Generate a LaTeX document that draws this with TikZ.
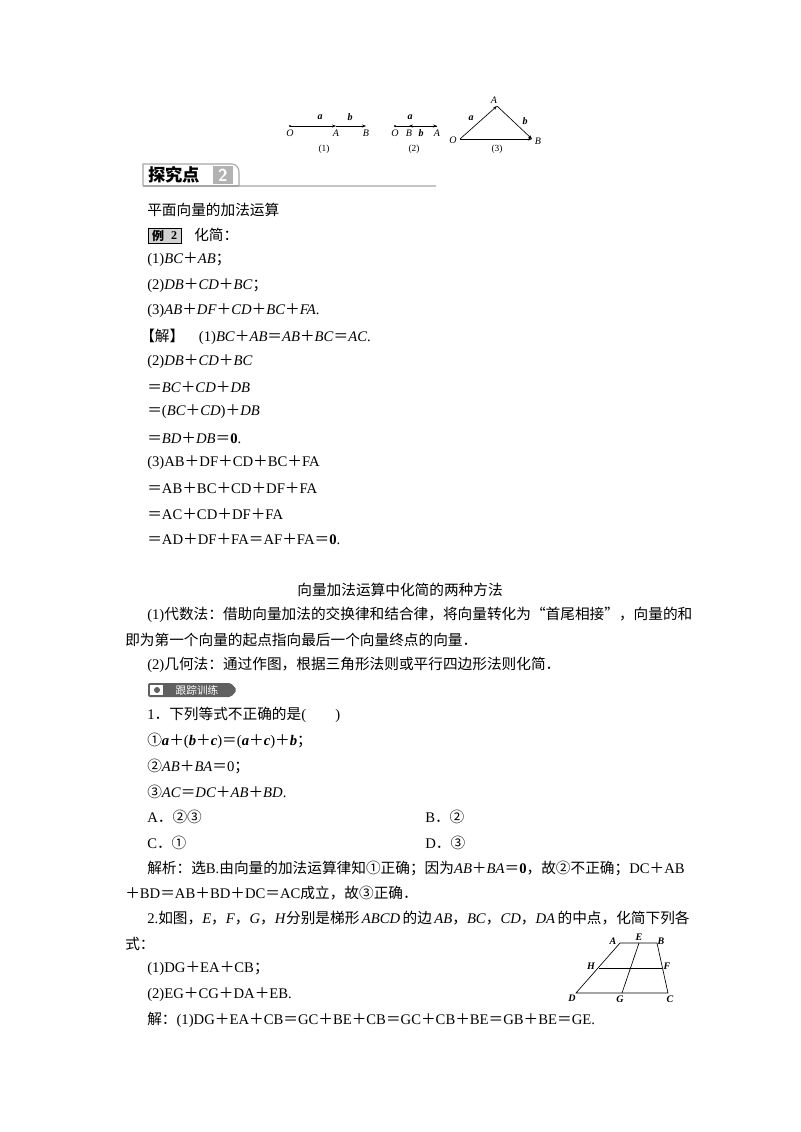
\documentclass[tikz,border=0pt]{standalone}
\usepackage{fontspec}
\usetikzlibrary{arrows.meta}
\setmainfont{Liberation Serif}
\newfontfamily\cjk{Noto Sans CJK SC}
\newcommand{\Pl}{{\cjk ＋}}
\newcommand{\Eq}{{\cjk ＝}}
\newcommand{\Dt}{{\cjk ．}}
\newcommand{\vv}[1]{\textit{#1}}
\begin{document}
\begin{tikzpicture}[x=0.75pt,y=-0.75pt,font=\fontsize{11}{13}\selectfont,
  txt/.style={anchor=west,inner sep=0pt},
  lab/.style={inner sep=0pt,font=\fontsize{7.5}{8}\selectfont\itshape},
  tl/.style={inner sep=0pt,font=\fontsize{7.5}{8}\selectfont\itshape\bfseries},
  vec/.style={-{Stealth[length=3pt]},line width=0.5pt}]
\useasboundingbox (0,0) rectangle (800,1132);
\fill[white] (0,0) rectangle (800,1132);
% top figures
\coordinate (O1) at (290,126); \coordinate (A1) at (336,126); \coordinate (B1) at (366,126);
\fill (O1) circle (1.1);
\draw[vec] (O1) -- (A1); \draw[vec] (A1) -- (B1);
\node[lab] at (320,117) {\textbf{a}}; \node[lab] at (350,117) {\textbf{b}};
\node[lab] at (290,133) {O}; \node[lab] at (336,133) {A}; \node[lab] at (366,133) {B};
\node[inner sep=0pt,font=\fontsize{7}{8}\selectfont] at (324,149) {(1)};
\coordinate (O2) at (395,126); \coordinate (B2) at (409,126); \coordinate (A2) at (437,126);
\fill (O2) circle (1.1);
\draw[vec] (O2) -- (A2); \draw[vec] (A2) -- (B2);
\node[lab] at (410,117) {\textbf{a}}; \node[lab] at (421,133) {\textbf{b}};
\node[lab] at (395,133) {O}; \node[lab] at (409,133) {B}; \node[lab] at (437,133) {A};
\node[inner sep=0pt,font=\fontsize{7}{8}\selectfont] at (414,149) {(2)};
\coordinate (O3) at (460,139); \coordinate (A3) at (497,106); \coordinate (B3) at (532,139);
\draw[vec] (O3) -- (A3); \draw[vec] (A3) -- (B3); \draw[vec] (O3) -- (B3);
\node[lab] at (494,100) {A}; \node[lab] at (453,140) {O}; \node[lab] at (538,141) {B};
\node[lab] at (471,118) {\textbf{a}}; \node[lab] at (525,121) {\textbf{b}};
\node[inner sep=0pt,font=\fontsize{7}{8}\selectfont] at (497,149) {(3)};
% header
\draw[gray!70,line width=0.8pt] (143,186) -- (143,164) -- (232,164) to[out=0,in=90] (239,172) -- (239,186) -- (436,186);
\draw[gray!70,line width=0.8pt] (143,186) -- (239,186);
\node[txt,font=\fontsize{13}{14}\selectfont\cjk\bfseries] at (148,175) {探究点};
\fill[gray!60] (213,166) rectangle (233,184);
\node[inner sep=0pt,text=white,font=\fontsize{13}{14}\selectfont\sffamily\bfseries] at (223,175) {2};
% body
\node[txt] at (147,210) {\cjk 平面向量的加法运算};
\draw[fill=gray!35,draw=black,line width=0.4pt] (148,228) rectangle (181,243);
\node[inner sep=0pt,font=\fontsize{9}{10}\selectfont\cjk\bfseries] at (158,235.5) {例};
\node[inner sep=0pt,font=\fontsize{9}{10}\selectfont\bfseries] at (174,235.5) {2};
\node[txt] at (194,235) {\cjk 化简：};
\node[txt] at (147,260) {(1)\vv{BC}\Pl\vv{AB}{\cjk ；}};
\node[txt] at (147,286) {(2)\vv{DB}\Pl\vv{CD}\Pl\vv{BC}{\cjk ；}};
\node[txt] at (147,311) {(3)\vv{AB}\Pl\vv{DF}\Pl\vv{CD}\Pl\vv{BC}\Pl\vv{FA}.};
\node[txt] at (140,337) {{\cjk 【解】}\quad(1)\vv{BC}\Pl\vv{AB}\Eq\vv{AB}\Pl\vv{BC}\Eq\vv{AC}.};
\node[txt] at (147,362) {(2)\vv{DB}\Pl\vv{CD}\Pl\vv{BC}};
\node[txt] at (147,387) {\Eq\vv{BC}\Pl\vv{CD}\Pl\vv{DB}};
\node[txt] at (147,412) {\Eq(\vv{BC}\Pl\vv{CD})\Pl\vv{DB}};
\node[txt] at (147,438) {\Eq\vv{BD}\Pl\vv{DB}\Eq\textbf{0}.};
\node[txt] at (147,463) {(3)AB\Pl DF\Pl CD\Pl BC\Pl FA};
\node[txt] at (147,488) {\Eq AB\Pl BC\Pl CD\Pl DF\Pl FA};
\node[txt] at (147,514) {\Eq AC\Pl CD\Pl DF\Pl FA};
\node[txt] at (147,539) {\Eq AD\Pl DF\Pl FA\Eq AF\Pl FA\Eq\textbf{0}.};
\node[inner sep=0pt] at (400,590) {\cjk 向量加法运算中化简的两种方法};
\node[txt] at (147,615) {(1){\cjk 代数法：借助向量加法的交换律和结合律，将向量转化为“首尾相接”，向量的和}};
\node[txt] at (125,640) {\cjk 即为第一个向量的起点指向最后一个向量终点的向量．};
\node[txt] at (147,665) {(2){\cjk 几何法：通过作图，根据三角形法则或平行四边形法则化简．}};
% badge
\fill[gray!75!black,rounded corners=1.5pt] (148,683) -- (231,683) -- (237,690) -- (231,697) -- (148,697) -- cycle;
\fill[white] (150,685) rectangle (163,695);
\fill[gray!75!black] (157,690) circle (3);
\node[inner sep=0pt,text=white,font=\fontsize{8}{9}\selectfont\cjk] at (197,690) {跟踪训练};
\node[txt] at (147,715) {1\Dt{\cjk 下列等式不正确的是}(\qquad)};
\node[txt] at (147,741) {{\cjk ①}\textbf{\textit{a}}\Pl(\textbf{\textit{b}}\Pl\textbf{\textit{c}})\Eq(\textbf{\textit{a}}\Pl\textbf{\textit{c}})\Pl\textbf{\textit{b}}{\cjk ；}};
\node[txt] at (147,766) {{\cjk ②}\vv{AB}\Pl\vv{BA}\Eq0{\cjk ；}};
\node[txt] at (147,792) {{\cjk ③}\vv{AC}\Eq\vv{DC}\Pl\vv{AB}\Pl\vv{BD}.};
\node[txt] at (147,817) {A\Dt{\cjk ②③}};
\node[txt] at (425,817) {B\Dt{\cjk ②}};
\node[txt] at (147,843) {C\Dt{\cjk ①}};
\node[txt] at (425,843) {D\Dt{\cjk ③}};
\node[txt] at (147,868) {{\cjk 解析：选}B.{\cjk 由向量的加法运算律知①正确；因为}\vv{AB}\Pl\vv{BA}\Eq\textbf{0}{\cjk ，故②不正确；}DC\Pl AB};
\node[txt] at (125,893) {\Pl BD\Eq AB\Pl BD\Pl DC\Eq AC{\cjk 成立，故③正确．}};
\node[txt] at (147,918) {2.{\cjk 如图，}\vv{E}{\cjk ，}\vv{F}{\cjk ，}\vv{G}{\cjk ，}\vv{H}{\cjk 分别是梯形}\,\vv{ABCD}\,{\cjk 的边}\,\vv{AB}{\cjk ，}\vv{BC}{\cjk ，}\vv{CD}{\cjk ，}\vv{DA}\,{\cjk 的中点，化简下列各}};
\node[txt] at (125,944) {\cjk 式：};
\node[txt] at (147,969) {(1)DG\Pl EA\Pl CB{\cjk ；}};
\node[txt] at (147,995) {(2)EG\Pl CG\Pl DA\Pl EB.};
\node[txt] at (147,1020) {{\cjk 解：}(1)DG\Pl EA\Pl CB\Eq GC\Pl BE\Pl CB\Eq GC\Pl CB\Pl BE\Eq GB\Pl BE\Eq GE.};
% trapezoid
\coordinate (A) at (620,943); \coordinate (B) at (657,943); \coordinate (C) at (668,993);
\coordinate (D) at (576,993); \coordinate (E) at (639,943); \coordinate (G) at (622,993);
\coordinate (H) at (599,968); \coordinate (F) at (662,968);
\draw[line width=0.5pt] (A) -- (B) -- (C) -- (D) -- cycle;
\draw[line width=0.5pt] (E) -- (G); \draw[line width=0.5pt] (H) -- (F);
\node[tl] at (613,941) {A};
\node[tl] at (639,937) {E};
\node[tl] at (661,941) {B};
\node[tl] at (591,966) {H};
\node[tl] at (667,966) {F};
\node[tl] at (572,998) {D};
\node[tl] at (620,999) {G};
\node[tl] at (670,999) {C};
\end{tikzpicture}
\end{document}
